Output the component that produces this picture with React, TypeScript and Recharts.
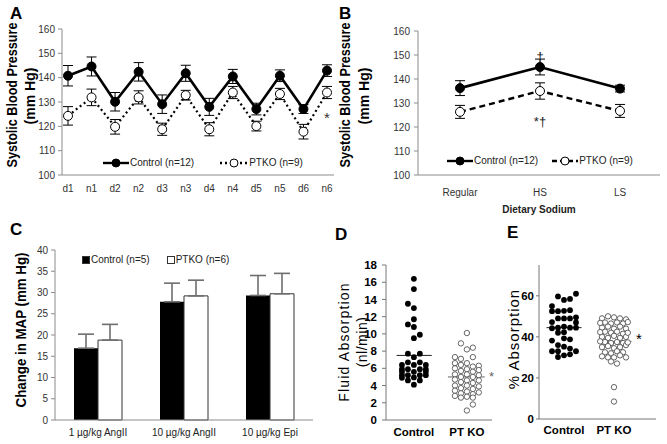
import React from 'react'
import {
  LineChart, Line, BarChart, Bar, ScatterChart, Scatter, XAxis, YAxis,
  ErrorBar, Legend, ReferenceLine, ReferenceDot
} from 'recharts'

// panel A: diurnal systolic pressure
const periods = ['d1', 'n1', 'd2', 'n2', 'd3', 'n3', 'd4', 'n4', 'd5', 'n5', 'd6', 'n6']
const ctrlA = [140.8, 144.6, 130.1, 142.4, 129.1, 141.8, 128, 140.5, 127.1, 140.8, 127.1, 142.9]
const ctrlAErr = [4.2, 3.9, 3.8, 3.8, 3.8, 3.3, 3.5, 2.9, 2.4, 2.4, 1.8, 2.4]
const ptkoA = [124.3, 131.9, 119.8, 131.9, 118.8, 132.8, 118.8, 133.9, 120.1, 133.3, 117.8, 133.9]
const ptkoAErr = [3.8, 3.4, 3, 2.7, 2.5, 2, 2.7, 2.5, 2, 2.3, 3, 2.5]
const bpTicks = [100, 110, 120, 130, 140, 150, 160]
const lineNames = ['Control (n=12)', 'PTKO (n=9)']

// panel B: dietary sodium
const diets = ['Regular', 'HS', 'LS']
const ctrlB = [136.2, 145, 136]
const ctrlBErr = [3.1, 3.3, 1.4]
const ptkoB = [126.3, 135, 126.7]
const ptkoBErr = [2.7, 3.4, 2.7]

// panel C: pressor response
const doses = ['1 µg/kg AngII', '10 µg/kg AngII', '10 µg/kg Epi']
const ctrlC = [16.9, 27.8, 29.3]
const ctrlCErr = [3.3, 4.4, 4.7]
const ptkoC = [18.8, 29.2, 29.7]
const ptkoCErr = [3.7, 3.7, 4.8]
const mapTicks = [0, 5, 10, 15, 20, 25, 30, 35, 40]
const barNames = ['Control (n=5)', 'PTKO (n=6)']

// panel D: fluid absorption (nl/min), jitter column per point
const groups = ['Control', 'PT KO']
const ctrlFlow = [16.4, 15.2, 13.5, 13.0, 11.7, 11.1, 10.8, 9.9, 9.5, 7.7, 7.7, 7.3, 6.7, 6.7, 6.4, 6.4, 6.4, 5.9, 5.9, 5.9, 5.9, 5.6, 5.6, 5.6, 5.2, 5.2, 5.2, 5.2, 4.9, 4.95, 4.6, 4.6, 4.1]
const ctrlFlowCol = [0, 0, -1, 0, 0, -1, 0, 1, 0, -1, 1, 0, -1, 1, -2, 0, 2, -2, -1, 1, 2, -2, 0, 2, -2, -1, 1, 2, -2, 0, -1, 1, 0]
const ptkoFlow = [10.1, 8.9, 8.4, 8.2, 7.3, 7.1, 7.3, 6.6, 6.6, 6.3, 6.4, 6.2, 6.0, 5.9, 5.8, 5.7, 5.6, 5.3, 5.3, 5.2, 5.0, 5.0, 4.7, 4.6, 4.6, 4.4, 4.3, 4.0, 4.0, 3.9, 3.7, 3.6, 3.4, 3.3, 3.2, 3.1, 3.0, 2.8, 2.7, 2.6, 2.6, 1.8, 1.1]
const ptkoFlowCol = [0, -1, 1, 0, -2, -1, 1, -2, 0, 2, -1, 1, -2, 0, 2, -1, 1, -2, 0, 2, -1, 1, -2, 0, 2, -1, 1, -2, 0, 2, -1, 1, -2, 0, 2, -1, 1, -2, 0, 1, -1, 1, 0]
const flowMeans = [7.5, 5.0]
const flowTicks = [0, 2, 4, 6, 8, 10, 12, 14, 16, 18]

// panel E: % absorption
const ctrlAbs = [61, 59.7, 58, 58.5, 55, 52.5, 52.5, 52.7, 53, 49, 49, 49, 49.5, 47.2, 47, 44.2, 44.5, 45, 44.5, 44.5, 42, 42.3, 39.3, 38.8, 38.2, 36, 35.2, 34.3, 33, 33, 33, 31, 31.5, 30.2]
const ctrlAbsCol = [2, -1, 0, 1, -2, -2, -1, 0, 1, -1, 0, 1, 2, -2, 2, -2, -1, 0, 1, 2, -1, 0, 0, 1, -2, -1, 0, 1, -2, -1, 2, 0, 1, -1]
const ptkoAbs = [49, 50, 49.5, 49, 48.5, 47, 46.5, 47, 46.5, 44.5, 45, 44, 45, 44, 42.5, 42, 42.5, 41.5, 40, 39.5, 40.5, 39.5, 40, 37.5, 37, 37.5, 37, 35, 35.5, 34.5, 35, 36, 32.5, 32, 33, 32.5, 30.5, 30, 30, 31, 30, 28, 27, 15.5, 8.5, 46.8, 47.2, 42.3, 42, 37.8, 37.3]
const ptkoAbsCol = [-2, -1, 0, 1, 2, -1.5, -0.5, 0.5, 1.5, -2, -1, 0, 1, 2, -1.5, -0.5, 0.5, 1.5, -2, -1, 0, 1, 2, -1.5, -0.5, 0.5, 1.5, -2, -1, 0, 1, 2, -1.5, -0.5, 0.5, 1.5, -2, -1, 0, 1, 2, -0.5, 0.5, 0, 0, -2.3, 2.3, -2.3, 2.3, -2.3, 2.3]
const absMeans = [44.5, 37.8]
const absTicks = [0, 20, 40, 60]

const axisGray = '#8c8c8c'
const font = '"Liberation Sans", Arial, sans-serif'

const dataA = periods.map((p, i) => ({ p, ctrl: ctrlA[i], ctrlErr: ctrlAErr[i], ptko: ptkoA[i], ptkoErr: ptkoAErr[i] }))
const dataB = diets.map((d, i) => ({ d, ctrl: ctrlB[i], ctrlErr: ctrlBErr[i], ptko: ptkoB[i], ptkoErr: ptkoBErr[i] }))
const dataC = doses.map((d, i) => ({ d, ctrl: ctrlC[i], ctrlErr: [0, ctrlCErr[i]], ptko: ptkoC[i], ptkoErr: [0, ptkoCErr[i]] }))

// D: groups at x=1 and x=2.9, one jitter column = 0.214
const posD = [1, 2.9]
const colD = 0.214
const ctrlFlowPts = ctrlFlow.map((y, i) => ({ x: posD[0] + ctrlFlowCol[i] * colD, y }))
const ptkoFlowPts = ptkoFlow.map((y, i) => ({ x: posD[1] + ptkoFlowCol[i] * colD, y }))
// E: groups at x=1 and x=3, one jitter column = 0.24
const posE = [1, 3]
const colE = 0.24
const ctrlAbsPts = ctrlAbs.map((y, i) => ({ x: posE[0] + ctrlAbsCol[i] * colE, y }))
const ptkoAbsPts = ptkoAbs.map((y, i) => ({ x: posE[1] + ptkoAbsCol[i] * colE, y }))

function LineLegend({ items }: { items: { label: string; dash?: string; fill: string; w: number; gap: number }[] }) {
  return (
    <div style={{ display: 'flex', alignItems: 'center', fontSize: 10, lineHeight: '12px', color: '#222', whiteSpace: 'nowrap' }}>
      {items.map(it => (
        <span key={it.label} style={{ display: 'inline-flex', alignItems: 'center', marginRight: it.gap }}>
          <svg width={it.w} height={12}>
            <line x1={0} y1={6} x2={it.w} y2={6} stroke="#000" strokeWidth={2.4} strokeDasharray={it.dash} />
            <circle cx={it.w / 2} cy={6} r={4} fill={it.fill} stroke="#000" strokeWidth={1} />
          </svg>
          <span style={{ marginLeft: 1 }}>{it.label}</span>
        </span>
      ))}
    </div>
  )
}

function BoxLegend({ items }: { items: { label: string; fill: string; gap: number }[] }) {
  return (
    <div style={{ display: 'flex', alignItems: 'center', fontSize: 10, lineHeight: '12px', color: '#222', whiteSpace: 'nowrap' }}>
      {items.map(it => (
        <span key={it.label} style={{ display: 'inline-flex', alignItems: 'center', marginRight: it.gap }}>
          <svg width={8} height={12}>
            <rect x={0.5} y={2.5} width={7} height={7} fill={it.fill} stroke="#333" strokeWidth={1} />
          </svg>
          <span style={{ marginLeft: 1 }}>{it.label}</span>
        </span>
      ))}
    </div>
  )
}

// rotated axis title, squeeze compresses it along its length
function VTitle({ text, x, y, size, bold, spacing, squeeze }: { text: string; x: number; y: number; size: number; bold?: boolean; spacing?: number; squeeze?: number }) {
  return (
    <div style={{
      position: 'absolute', left: x, top: y,
      transform: `translate(-50%, -50%) rotate(-90deg) scaleX(${squeeze || 1})`,
      whiteSpace: 'nowrap', fontSize: size, fontWeight: bold ? 700 : 400, letterSpacing: spacing || 0, lineHeight: 1, color: '#000'
    }}>{text}</div>
  )
}

function PanelTag({ t, x, y }: { t: string; x: number; y: number }) {
  return <div style={{ position: 'absolute', left: x, top: y, fontSize: 17, fontWeight: 700, lineHeight: '17px' }}>{t}</div>
}

const filledDot = (p: any) => <circle cx={p.cx} cy={p.cy} r={2.9} fill="#000" />
const openDot = (p: any) => <circle cx={p.cx} cy={p.cy} r={2.7} fill="#fff" stroke="#555" strokeWidth={0.9} />

const tickA = { fontSize: 10, fill: '#333' }
const boldTick = { fontSize: 11.5, fill: '#000', fontWeight: 700 }

export default function App() {
  return (
    <div style={{ position: 'absolute', left: 0, top: 0, width: 667, height: 444, background: '#fff', fontFamily: font, overflow: 'hidden' }}>
      <PanelTag t="A" x={10} y={5} />
      <PanelTag t="B" x={339} y={5} />
      <PanelTag t="C" x={10} y={221} />
      <PanelTag t="D" x={335} y={226} />
      <PanelTag t="E" x={507} y={224} />

      <VTitle text="Systolic Blood Pressure" x={12} y={95} size={14} bold squeeze={0.9} />
      <VTitle text="(mm Hg)" x={30} y={96} size={14} bold />
      <VTitle text="Systolic Blood Pressure" x={345} y={95} size={14} bold squeeze={0.9} />
      <VTitle text="(mm Hg)" x={364} y={96} size={14} bold />
      <VTitle text="Change in MAP (mm Hg)" x={21} y={330} size={14} bold squeeze={0.95} />
      <VTitle text="Fluid Absorption" x={344} y={342} size={14} spacing={1.2} />
      <VTitle text="(nl/min)" x={362} y={342} size={14} spacing={0.5} />
      <VTitle text="% Absorption" x={513} y={339} size={15} spacing={1} />

      {/* A */}
      <div style={{ position: 'absolute', left: 0, top: 0 }}>
        <LineChart width={340} height={200} data={dataA} margin={{ top: 29, right: 6, bottom: 0, left: 0 }}>
          <XAxis dataKey="p" padding={{ left: 6, right: 7 }} height={25} interval={0} tickLine={false}
            axisLine={{ stroke: axisGray }} tick={tickA} tickSize={4} tickMargin={6} />
          <YAxis width={62} domain={[100, 160]} ticks={bpTicks} tick={tickA} tickSize={4} tickMargin={3}
            axisLine={{ stroke: axisGray }} tickLine={{ stroke: axisGray }} />
          <Legend verticalAlign="middle" align="center" wrapperStyle={{ left: 103, top: 157, width: 'auto' }}
            content={() => <LineLegend items={[
              { label: lineNames[0], fill: '#000', w: 26, gap: 26 },
              { label: lineNames[1], fill: '#fff', dash: '2 3', w: 28, gap: 0 }
            ]} />} />
          <Line dataKey="ptko" name={lineNames[1]} stroke="#000" strokeWidth={2.2} strokeDasharray="2 3" isAnimationActive={false}
            dot={{ r: 4.5, fill: '#fff', stroke: '#000', strokeWidth: 1, strokeDasharray: '' }}>
            <ErrorBar dataKey="ptkoErr" direction="y" width={5} stroke="#000" strokeWidth={1} />
          </Line>
          <Line dataKey="ctrl" name={lineNames[0]} stroke="#000" strokeWidth={2.6} isAnimationActive={false}
            dot={{ r: 4.5, fill: '#000', stroke: '#000', strokeWidth: 1 }}>
            <ErrorBar dataKey="ctrlErr" direction="y" width={5} stroke="#000" strokeWidth={1} />
          </Line>
          <ReferenceDot x="n6" y={123.4} r={0} fill="none" stroke="none" ifOverflow="visible"
            label={{ value: '*', position: 'center', fontSize: 15, fill: '#333' }} />
        </LineChart>
      </div>

      {/* B */}
      <div style={{ position: 'absolute', left: 330, top: 0 }}>
        <LineChart width={337} height={218} data={dataB} margin={{ top: 31, right: 7, bottom: 3, left: 0 }}>
          <XAxis dataKey="d" padding={{ left: 42, right: 40 }} height={40} interval={0} tickLine={false}
            axisLine={{ stroke: axisGray }} tick={tickA} tickSize={4} tickMargin={10}
            label={{ value: 'Dietary Sodium', position: 'insideBottom', offset: 2, fontSize: 10, fontWeight: 700, fill: '#222' }} />
          <YAxis width={88} domain={[100, 160]} ticks={bpTicks} tick={tickA} tickSize={4} tickMargin={4}
            axisLine={{ stroke: axisGray }} tickLine={{ stroke: axisGray }} />
          <Legend verticalAlign="middle" align="center" wrapperStyle={{ left: 117, top: 155, width: 'auto' }}
            content={() => <LineLegend items={[
              { label: lineNames[0], fill: '#000', w: 26, gap: 14 },
              { label: lineNames[1], fill: '#fff', dash: '5 3', w: 26, gap: 0 }
            ]} />} />
          <Line dataKey="ptko" name={lineNames[1]} stroke="#000" strokeWidth={2.4} strokeDasharray="6 4" isAnimationActive={false}
            dot={{ r: 4.5, fill: '#fff', stroke: '#000', strokeWidth: 1, strokeDasharray: '' }}>
            <ErrorBar dataKey="ptkoErr" direction="y" width={5} stroke="#000" strokeWidth={1} />
          </Line>
          <Line dataKey="ctrl" name={lineNames[0]} stroke="#000" strokeWidth={2.6} isAnimationActive={false}
            dot={{ r: 4.5, fill: '#000', stroke: '#000', strokeWidth: 1 }}>
            <ErrorBar dataKey="ctrlErr" direction="y" width={5} stroke="#000" strokeWidth={1} />
          </Line>
          <ReferenceDot x="HS" y={149.5} r={0} fill="none" stroke="none" ifOverflow="visible"
            label={{ value: '†', position: 'center', fontSize: 13, fill: '#222' }} />
          <ReferenceDot x="HS" y={122.3} r={0} fill="none" stroke="none" ifOverflow="visible"
            label={{ value: '*†', position: 'center', fontSize: 13, fill: '#222' }} />
        </LineChart>
      </div>

      {/* C */}
      <div style={{ position: 'absolute', left: 0, top: 220 }}>
        <BarChart width={330} height={224} data={dataC} margin={{ top: 30, right: 17, bottom: 0, left: 0 }} barGap={0} barSize={24}>
          <XAxis dataKey="d" height={24} interval={0} tickLine={false} axisLine={{ stroke: axisGray }}
            tick={{ fontSize: 10, fill: '#222' }} tickSize={4} tickMargin={5} />
          <YAxis width={55} domain={[0, 40]} ticks={mapTicks} tick={tickA} tickSize={4} tickMargin={3}
            axisLine={{ stroke: axisGray }} tickLine={{ stroke: axisGray }} />
          <Legend verticalAlign="middle" align="center" wrapperStyle={{ left: 82, top: 34, width: 'auto' }}
            content={() => <BoxLegend items={[
              { label: barNames[0], fill: '#000', gap: 17 },
              { label: barNames[1], fill: '#fff', gap: 0 }
            ]} />} />
          <Bar dataKey="ctrl" name={barNames[0]} fill="#000" isAnimationActive={false}>
            <ErrorBar dataKey="ctrlErr" direction="y" width={8} stroke="#6e6e6e" strokeWidth={1.6} />
          </Bar>
          <Bar dataKey="ptko" name={barNames[1]} fill="#fff" stroke="#333" strokeWidth={1} isAnimationActive={false}>
            <ErrorBar dataKey="ptkoErr" direction="y" width={8} stroke="#6e6e6e" strokeWidth={1.6} />
          </Bar>
        </BarChart>
      </div>

      {/* D */}
      <div style={{ position: 'absolute', left: 330, top: 220 }}>
        <ScatterChart width={170} height={224} margin={{ top: 45, right: 8, bottom: 0, left: 0 }}>
          <XAxis type="number" dataKey="x" domain={[0, 3.8]} ticks={posD} interval={0} height={24}
            tickFormatter={(v: number) => groups[posD.indexOf(v)] || ''} tickLine={false}
            axisLine={{ stroke: '#777' }} tick={boldTick} tickSize={3} tickMargin={5} />
          <YAxis type="number" dataKey="y" width={56} domain={[0, 18]} ticks={flowTicks} interval={0}
            tick={{ fontSize: 11.5, fill: '#000', fontWeight: 700 }} tickSize={4} tickMargin={5}
            axisLine={{ stroke: '#777' }} tickLine={{ stroke: '#777' }} />
          <Scatter data={ptkoFlowPts} shape={openDot} isAnimationActive={false} />
          <Scatter data={ctrlFlowPts} shape={filledDot} isAnimationActive={false} />
          <ReferenceLine segment={[{ x: posD[0] - 0.62, y: flowMeans[0] }, { x: posD[0] + 0.64, y: flowMeans[0] }]} stroke="#222" strokeWidth={1} />
          <ReferenceLine segment={[{ x: posD[1] - 0.68, y: flowMeans[1] }, { x: posD[1] + 0.64, y: flowMeans[1] }]} stroke="#666" strokeWidth={1} />
          <ReferenceDot x={3.78} y={5.1} r={0} fill="none" stroke="none" ifOverflow="visible"
            label={{ value: '*', position: 'center', fontSize: 13, fill: '#666' }} />
        </ScatterChart>
      </div>

      {/* E */}
      <div style={{ position: 'absolute', left: 500, top: 220 }}>
        <ScatterChart width={167} height={224} margin={{ top: 45, right: 11, bottom: 1, left: 0 }}>
          <XAxis type="number" dataKey="x" domain={[0, 4.68]} ticks={posE} interval={0} height={24}
            tickFormatter={(v: number) => groups[posE.indexOf(v)] || ''} tickLine={false}
            axisLine={{ stroke: '#777' }} tick={boldTick} tickSize={3} tickMargin={4} />
          <YAxis type="number" dataKey="y" width={39} domain={[0, 75]} ticks={absTicks} interval={0}
            tick={{ fontSize: 11.5, fill: '#000', fontWeight: 700 }} tickSize={3} tickMargin={2}
            axisLine={{ stroke: '#777' }} tickLine={{ stroke: '#777' }} />
          <Scatter data={ptkoAbsPts} shape={openDot} isAnimationActive={false} />
          <Scatter data={ctrlAbsPts} shape={filledDot} isAnimationActive={false} />
          <ReferenceLine segment={[{ x: posE[0] - 0.7, y: absMeans[0] }, { x: posE[0] + 0.7, y: absMeans[0] }]} stroke="#222" strokeWidth={1} />
          <ReferenceLine segment={[{ x: posE[1] - 0.66, y: absMeans[1] }, { x: posE[1] + 0.7, y: absMeans[1] }]} stroke="#666" strokeWidth={1} />
          <ReferenceDot x={4.0} y={39.3} r={0} fill="none" stroke="none" ifOverflow="visible"
            label={{ value: '*', position: 'center', fontSize: 15, fill: '#000' }} />
        </ScatterChart>
      </div>
    </div>
  )
}
